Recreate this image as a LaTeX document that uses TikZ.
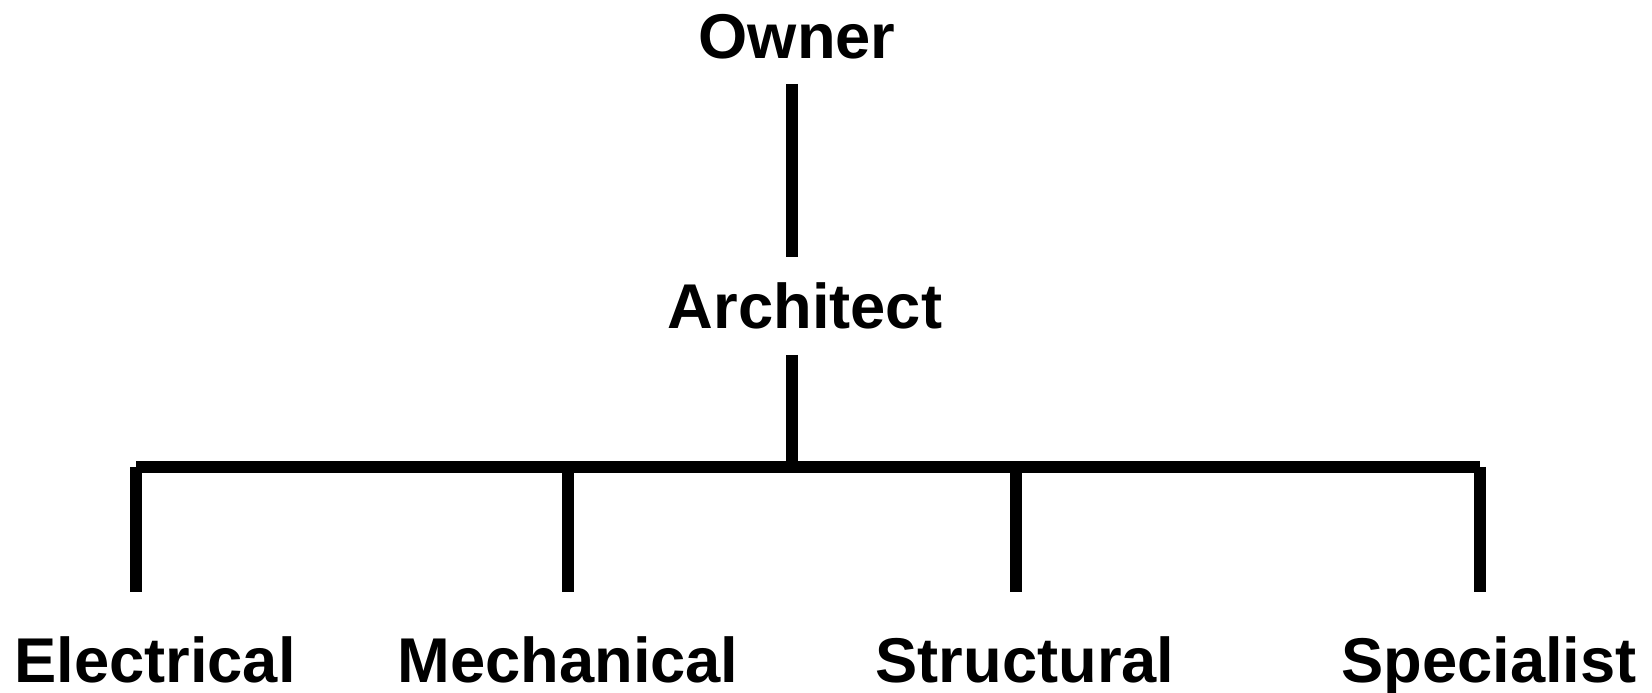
\documentclass[tikz,border=0pt]{standalone}
\usepackage{fontspec}
\setmainfont{Liberation Sans}
\tikzset{
  lbl/.style={anchor=base, inner sep=0pt, font=\fontsize{36pt}{40pt}\selectfont\bfseries},
  branch/.style={line width=0.25cm}
}
\begin{document}
\begin{tikzpicture}
    \useasboundingbox (0,0) rectangle (33.04,13.86);
    \node[lbl] (owner) at (15.94,12.68) {Owner};
    \node[lbl] (architect) at (16.1,7.28) {Architect};
    \coordinate (hub) at (15.84,4.52);
    \draw[branch] ([yshift=-0.48cm]owner.south -| hub) -- ([yshift=0.52cm]architect.north -| hub);
    \draw[branch] ([yshift=-0.5cm]architect.south -| hub) -- (hub);
    % the four consultants
    \foreach \name/\x/\lx/\txt in {elec/2.72/3.1/Electrical, mech/11.36/11.36/Mechanical,
        struc/20.32/20.5/Structural, spec/29.6/29.78/Specialist} {
      \node[lbl] (\name) at (\lx,0.2) {\txt};
      \coordinate (\name-top) at (\x,4.52);
      \draw[branch] (\name-top) -- ([yshift=0.9cm]\name.north -| \name-top);
    }
    \draw[branch] (elec-top) -- (spec-top);
  \end{tikzpicture}
\end{document}
